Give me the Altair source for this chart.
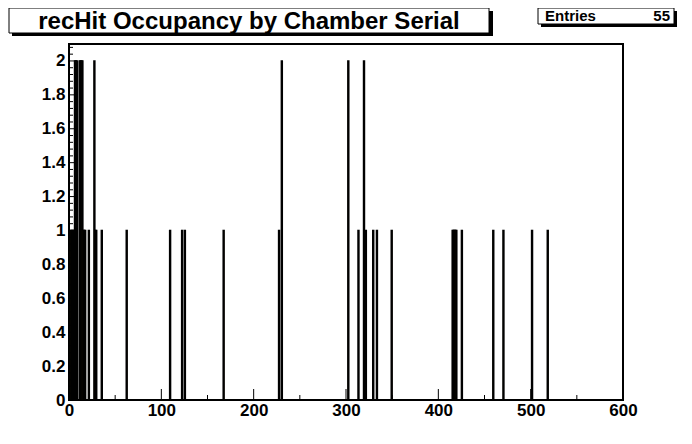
import altair as alt
import pandas as pd

# ---- data (bin lower edge, entries per bin; bin width 1) ----
bins = [1, 2, 3, 4, 5, 6, 7, 8, 11, 12, 13, 14, 15, 16, 17, 21, 27, 28, 29, 35,
        62, 109, 122, 125, 167, 227, 230, 302, 313, 319, 321, 329, 333, 349,
        415, 416, 417, 418, 419, 425, 459, 470, 501, 518]
counts = [1, 1, 1, 1, 1, 2, 2, 2, 2, 2, 2, 2, 1, 1, 1, 1, 2, 1, 1, 1,
          1, 1, 1, 1, 1, 1, 2, 2, 1, 2, 1, 1, 1, 1,
          1, 1, 1, 1, 1, 1, 1, 1, 1, 1]
bin_width = 1

title_text = "recHit Occupancy by Chamber Serial"
stats_label = "Entries"

x_major = [0, 100, 200, 300, 400, 500, 600]
x_minor = [50, 150, 250, 350, 450, 550]
y_major = [0, 0.2, 0.4, 0.6, 0.8, 1.0, 1.2, 1.4, 1.6, 1.8, 2.0]
y_minor = [0.04, 0.08, 0.12, 0.16, 0.24, 0.28, 0.32, 0.36, 0.44, 0.48, 0.52, 0.56,
           0.64, 0.68, 0.72, 0.76, 0.84, 0.88, 0.92, 0.96, 1.04, 1.08, 1.12, 1.16,
           1.24, 1.28, 1.32, 1.36, 1.44, 1.48, 1.52, 1.56, 1.64, 1.68, 1.72, 1.76,
           1.84, 1.88, 1.92, 1.96, 2.04, 2.08]

# ---- styles ----
FONT = "Liberation Sans"
ORANGE = "#ffb400"
W, H = 554, 356

df = pd.DataFrame({"lo": bins, "count": counts})
df["hi"] = df["lo"] + bin_width
entries = int(sum(counts))

xs = alt.Scale(domain=[0, 600], nice=False, zero=False)
ys = alt.Scale(domain=[0, 2.1], nice=False)

x_axis = alt.Axis(values=x_major, format="d", labelFont=FONT, labelFontSize=17,
                  labelFontWeight="bold", labelColor="black", ticks=False,
                  tickSize=0, grid=False, domainColor="black", labelPadding=2,
                  labelFlush=False, title=None)
y_axis = alt.Axis(values=y_major, format=".1~f", labelFont=FONT, labelFontSize=17,
                  labelFontWeight="bold", labelColor="black", ticks=False,
                  tickSize=0, grid=False, domainColor="black", labelPadding=4,
                  labelFlush=False, title=None)

bars = alt.Chart(df).mark_rect(fill=ORANGE, stroke="black", strokeWidth=1.5).encode(
    x=alt.X("lo:Q", scale=xs, axis=x_axis),
    x2="hi:Q",
    y=alt.Y("count:Q", scale=ys, axis=y_axis),
    y2=alt.datum(0),
)

def xticks(vals, length):
    return alt.Chart(pd.DataFrame({"lo": vals})).mark_rule(color="black", strokeWidth=1).encode(
        x=alt.X("lo:Q", scale=xs, axis=x_axis), y=alt.value(H), y2=alt.value(H - length))

def yticks(vals, length):
    return alt.Chart(pd.DataFrame({"count": vals})).mark_rule(color="black", strokeWidth=1).encode(
        y=alt.Y("count:Q", scale=ys, axis=y_axis), x=alt.value(0), x2=alt.value(length))

one = pd.DataFrame({"t": [title_text], "s": [stats_label], "n": [str(entries)]})

title_shadow = alt.Chart(one).mark_rect(color="black").encode(
    x=alt.value(-57), x2=alt.value(424), y=alt.value(-33), y2=alt.value(-8))
title_box = alt.Chart(one).mark_rect(fill="white", stroke="black", strokeWidth=1).encode(
    x=alt.value(-60), x2=alt.value(420), y=alt.value(-36), y2=alt.value(-11))
title_txt = alt.Chart(one).mark_text(font=FONT, fontSize=24, fontWeight="bold", color="black",
                                     align="center", baseline="alphabetic").encode(
    x=alt.value(180), y=alt.value(-15), text="t:N")

stats_shadow = alt.Chart(one).mark_rect(color="black").encode(
    x=alt.value(472), x2=alt.value(608), y=alt.value(-33), y2=alt.value(-17))
stats_box = alt.Chart(one).mark_rect(fill="white", stroke="black", strokeWidth=1).encode(
    x=alt.value(469), x2=alt.value(605), y=alt.value(-36), y2=alt.value(-20))
stats_l = alt.Chart(one).mark_text(font=FONT, fontSize=15, fontWeight="bold", color="black",
                                   align="left", baseline="alphabetic").encode(
    x=alt.value(476), y=alt.value(-23), text="s:N")
stats_r = alt.Chart(one).mark_text(font=FONT, fontSize=15, fontWeight="bold", color="black",
                                   align="right", baseline="alphabetic").encode(
    x=alt.value(601), y=alt.value(-23), text="n:N")

chart = alt.layer(
    bars, xticks(x_major, 11), xticks(x_minor, 5), yticks(y_major, 8), yticks(y_minor, 4),
    title_shadow, title_box, title_txt, stats_shadow, stats_box, stats_l, stats_r,
).properties(
    width=W, height=H,
    padding={"left": 61, "top": 36, "right": 60, "bottom": 30},
    autosize=alt.AutoSizeParams(type="none"),
    background="white",
).configure_view(stroke="black", strokeWidth=2)

chart.save("out.html", embed_options={"renderer": "svg", "actions": False})
